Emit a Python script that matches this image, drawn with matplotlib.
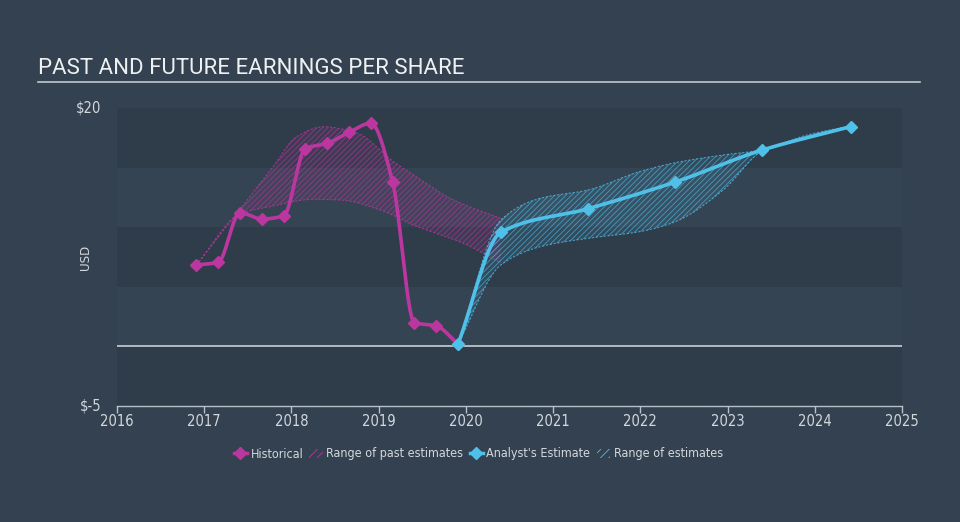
import numpy as np
import matplotlib.pyplot as plt
from matplotlib.lines import Line2D
from matplotlib.patches import Patch

# historical EPS (quarterly)
hist_x = [2016.91, 2017.16, 2017.41, 2017.66, 2017.91, 2018.16, 2018.41,
          2018.66, 2018.91, 2019.16, 2019.41, 2019.66, 2019.91]
hist_y = [6.83, 7.05, 11.22, 10.69, 10.94, 16.59, 17.04,
          17.96, 18.72, 13.79, 1.99, 1.71, 0.20]

# analyst estimates
fc_x = [2019.91, 2020.40, 2021.40, 2022.40, 2023.40, 2024.41]
fc_y = [0.20, 9.57, 11.55, 13.79, 16.48, 18.43]

# range of past estimates
past_up_x = [2016.91, 2017.41, 2017.79, 2018.06, 2018.37, 2018.75, 2019.17, 2019.40, 2019.86, 2020.40]
past_up_y = [6.83, 11.5, 15.08, 17.6, 18.43, 17.9, 15.5, 14.38, 12.28, 10.75]
past_lo_x = [2016.91, 2017.41, 2017.79, 2018.25, 2018.56, 2019.02, 2019.40, 2019.97, 2020.40]
past_lo_y = [6.83, 11.1, 11.78, 12.34, 12.28, 11.44, 10.18, 8.65, 7.0]

# range of future estimates
fut_up_x = [2019.91, 2020.40, 2020.85, 2021.40, 2021.99, 2022.40, 2022.95, 2023.40, 2023.91, 2024.41]
fut_up_y = [0.20, 10.6, 12.42, 13.12, 14.66, 15.41, 16.06, 16.48, 17.73, 18.5]
fut_lo_x = [2019.91, 2020.40, 2020.85, 2021.40, 2021.99, 2022.40, 2022.95, 2023.40, 2023.91, 2024.41]
fut_lo_y = [0.20, 6.83, 8.36, 9.07, 9.62, 10.46, 13.12, 16.4, 17.6, 18.4]

MAG = '#bb379f'
CYAN = '#4fc0e8'
BG = '#334150'
TXT = '#d3d8dd'
COND = dict(family='DejaVu Sans', stretch='condensed')


def pchip(x, y, xs):
    # monotone cubic, just for drawing smooth curves through the points
    x = np.asarray(x, float)
    y = np.asarray(y, float)
    h = np.diff(x)
    d = np.diff(y) / h
    m = np.zeros_like(y)
    m[0] = d[0]
    m[-1] = d[-1]
    for k in range(1, len(y) - 1):
        if d[k - 1] * d[k] > 0:
            w1 = 2 * h[k] + h[k - 1]
            w2 = h[k] + 2 * h[k - 1]
            m[k] = (w1 + w2) / (w1 / d[k - 1] + w2 / d[k])
    idx = np.clip(np.searchsorted(x, xs) - 1, 0, len(x) - 2)
    t = (xs - x[idx]) / h[idx]
    h00 = 2 * t**3 - 3 * t**2 + 1
    h10 = t**3 - 2 * t**2 + t
    h01 = -2 * t**3 + 3 * t**2
    h11 = t**3 - t**2
    return h00 * y[idx] + h10 * h[idx] * m[idx] + h01 * y[idx + 1] + h11 * h[idx] * m[idx + 1]


fig = plt.figure(figsize=(9.6, 5.22), dpi=100, facecolor=BG)
ax = fig.add_axes([117 / 960, 1 - 406 / 522, 785 / 960, 298 / 522])
ax.set_facecolor('#2f3c4a')
ax.set_xlim(2016, 2025)
ax.set_ylim(-5, 20)

# horizontal bands
for lo in [0, 10]:
    ax.axhspan(lo, lo + 5, color='#354453', lw=0, zorder=0)

# past range
xs = np.linspace(past_up_x[0], past_up_x[-1], 300)
up = pchip(past_up_x, past_up_y, xs)
lo = pchip(past_lo_x, past_lo_y, xs)
plt.rcParams['hatch.linewidth'] = 0.6
ax.fill_between(xs, lo, up, facecolor=(0.73, 0.22, 0.62, 0.12),
                edgecolor=(0.73, 0.22, 0.62, 0.65), hatch='//////', lw=0, zorder=2)
ax.plot(xs, up, color=MAG, lw=0.8, ls=(0, (2, 1.5)), alpha=0.75, zorder=2)
ax.plot(xs, lo, color=MAG, lw=0.8, ls=(0, (2, 1.5)), alpha=0.75, zorder=2)

# future range
xs = np.linspace(fut_up_x[0], fut_up_x[-1], 300)
up = pchip(fut_up_x, fut_up_y, xs)
lo = pchip(fut_lo_x, fut_lo_y, xs)
ax.fill_between(xs, lo, up, facecolor=(0.31, 0.75, 0.91, 0.12),
                edgecolor=(0.31, 0.75, 0.91, 0.65), hatch='//////', lw=0, zorder=2)
ax.plot(xs, up, color=CYAN, lw=0.8, ls=(0, (2, 1.5)), alpha=0.75, zorder=2)
ax.plot(xs, lo, color=CYAN, lw=0.8, ls=(0, (2, 1.5)), alpha=0.75, zorder=2)

# zero line
ax.axhline(0, color='#c9ced3', lw=1.2, zorder=3)

# lines
xs = np.linspace(hist_x[0], hist_x[-1], 500)
ax.plot(xs, pchip(hist_x, hist_y, xs), color=MAG, lw=2.6, zorder=4, solid_capstyle='round')
ax.plot(hist_x, hist_y, ls='none', marker='D', ms=6, color=MAG, zorder=5)
xs = np.linspace(fc_x[0], fc_x[-1], 500)
ax.plot(xs, pchip(fc_x, fc_y, xs), color=CYAN, lw=2.6, zorder=6, solid_capstyle='round')
ax.plot(fc_x, fc_y, ls='none', marker='D', ms=6, color=CYAN, zorder=7)

# axes styling
for s in ['top', 'right', 'left']:
    ax.spines[s].set_visible(False)
ax.spines['bottom'].set_color('#b8c0c8')
ax.spines['bottom'].set_linewidth(1)
ax.set_xticks(range(2016, 2026))
ax.set_xticklabels([str(y) for y in range(2016, 2026)], fontsize=10.5, color=TXT, **COND)
ax.tick_params(axis='x', colors='#b8c0c8', length=5, width=1, pad=1, labelcolor=TXT)
ax.set_yticks([20, -5])
ax.set_yticklabels(['$20', '$-5'], fontsize=10.5, color=TXT, **COND)
ax.tick_params(axis='y', length=0, pad=11, labelcolor=TXT)
for t in ax.get_yticklabels():
    t.set_verticalalignment('center')
ax.set_ylabel('USD', color=TXT, fontsize=9.5, **COND)
ax.yaxis.set_label_coords(-(117 - 92) / 785, 0.5)

# title
fig.text(38 / 960, 1 - 69 / 522, 'PAST AND FUTURE EARNINGS PER SHARE', fontsize=16,
         color='#eef0f2', family='Roboto', va='center', ha='left')
fig.add_artist(Line2D([38 / 960, 920 / 960], [1 - 81.5 / 522, 1 - 81.5 / 522],
                      color='#c2c8ce', lw=1.2))

# legend
handles = [
    Line2D([], [], color=MAG, lw=2.5, marker='D', ms=6),
    Patch(facecolor='none', edgecolor=MAG, hatch='////', lw=0),
    Line2D([], [], color=CYAN, lw=2.5, marker='D', ms=6),
    Patch(facecolor='none', edgecolor=CYAN, hatch='////', lw=0),
]
labels = ['Historical', 'Range of past estimates', "Analyst's Estimate", 'Range of estimates']
leg = fig.legend(handles, labels, loc='center', bbox_to_anchor=(0.498, 1 - 454 / 522), ncol=4,
                 frameon=False, handlelength=1.1, handletextpad=0.25,
                 columnspacing=0.5, labelcolor=TXT,
                 prop=dict(size=9, **COND))

fig.savefig('out.png', dpi=100, facecolor=BG)
